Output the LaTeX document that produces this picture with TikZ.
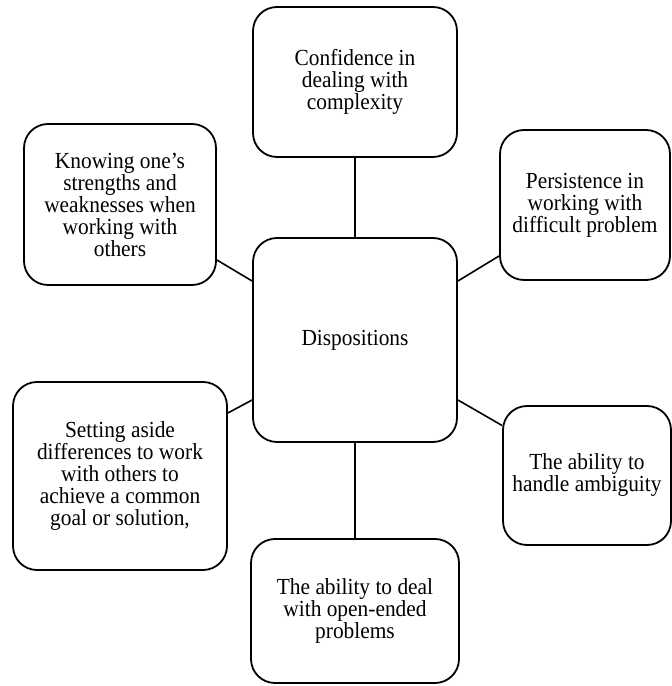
\documentclass[tikz,border=0pt]{standalone}
\usepackage{fontspec}
\setmainfont{Liberation Serif}[FakeStretch=0.93]
\begin{document}
\begin{tikzpicture}[x=1pt,y=1pt,
  box/.style={draw=black, line width=1.8pt, rounded corners=24pt, fill=white,
    align=center, inner sep=0pt, font=\fontsize{23}{22}\selectfont},
  link/.style={draw=black, line width=1.6pt}]
\useasboundingbox (0,0) rectangle (672,686);

% central node and the six surrounding dispositions
\node[box, minimum width=204pt, minimum height=204pt] (c) at (355,346) {Dispositions};
\node[box, minimum width=204pt, minimum height=150pt] (top) at (355,604)
  {Confidence in\\dealing with\\complexity};
\node[box, minimum width=192pt, minimum height=161pt] (tl) at (120,481.5)
  {Knowing one’s\\strengths and\\weaknesses when\\working with\\others};
\node[box, minimum width=170pt, minimum height=150pt] (tr) at (585,481)
  {Persistence in\\working with\\difficult problem};
\node[box, minimum width=214pt, minimum height=188pt] (bl) at (120,210)
  {Setting aside\\differences to work\\with others to\\achieve a common\\goal or solution,};
\node[box, minimum width=168pt, minimum height=139pt] (br) at (587,210.5)
  {The ability to\\handle ambiguity};
\node[box, minimum width=208pt, minimum height=144pt] (bot) at (355,75)
  {The ability to deal\\with open-ended\\problems};

% connectors
\draw[link] (top.south) -- (c.north);
\draw[link] (c.south) -- (bot.north);
\draw[link] ([yshift=-55.5pt]tl.east) -- ([yshift=59pt]c.west);
\draw[link] ([yshift=59pt]c.east) -- ([yshift=-51pt]tr.west);
\draw[link] ([yshift=-60pt]c.west) -- ([yshift=63pt]bl.east);
\draw[link] ([yshift=-60pt]c.east) -- ([yshift=50pt]br.west);
\end{tikzpicture}
\end{document}
